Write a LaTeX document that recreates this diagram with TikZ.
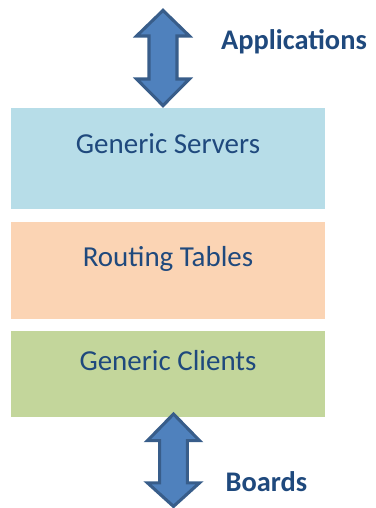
\documentclass[tikz,border=0pt]{standalone}
\usepackage{fontspec}
\setmainfont{Carlito}
\definecolor{txtblue}{HTML}{1F497D}
\definecolor{arrfill}{HTML}{4F81BD}
\definecolor{arrline}{HTML}{385D8A}
\definecolor{servcol}{HTML}{B7DDE8}
\definecolor{routcol}{HTML}{FBD4B4}
\definecolor{clntcol}{HTML}{C3D69B}
\tikzset{
	layer/.style={inner sep=0pt, minimum width=7.85cm},
	layertext/.style={anchor=base, text=txtblue, font=\fontsize{20.6}{24}\selectfont},
	sidetext/.style={anchor=base, text=txtblue, font=\fontsize{20.2}{24}\selectfont\bfseries},
	blockarrow/.style={fill=arrfill, draw=arrline, line width=2.2pt, line join=miter}
}
\begin{document}
\begin{tikzpicture}
		\useasboundingbox (0,0) rectangle (9.375,12.7);
		
		\node [layer, fill=servcol, minimum height=2.52cm] (servers) at (4.2, 8.741) {};
		\node [layer, fill=routcol, minimum height=2.42cm] (routing) at (4.2, 5.94) {};
		\node [layer, fill=clntcol, minimum height=2.15cm] (clients) at (4.2, 3.355) {};
		
		\node [layertext] (servtxt) at (4.2, 8.85) {Generic Servers};
		\node [layertext] (routtxt) at (4.2, 6.03) {Routing Tables};
		\node [layertext] (clnttxt) at (4.2, 3.43) {Generic Clients};
		
		\draw [blockarrow] (4.075, 12.44) -- (4.735, 11.8) -- (4.425, 11.8) -- (4.425, 10.725) -- (4.735, 10.725) -- (4.075, 10.06) -- (3.415, 10.725) -- (3.725, 10.725) -- (3.725, 11.8) -- (3.415, 11.8) -- cycle;
		\draw [blockarrow] (4.3375, 2.35) -- (4.99, 1.6825) -- (4.6825, 1.6825) -- (4.6825, 0.63) -- (4.99, 0.63) -- (4.3375, 0.04) -- (3.685, 0.63) -- (3.9925, 0.63) -- (3.9925, 1.6825) -- (3.685, 1.6825) -- cycle;
		
		\node [sidetext] (apps) at (7.35, 11.45) {Applications};
		\node [sidetext] (boards) at (6.66, 0.41) {Boards};
	\end{tikzpicture}
\end{document}
